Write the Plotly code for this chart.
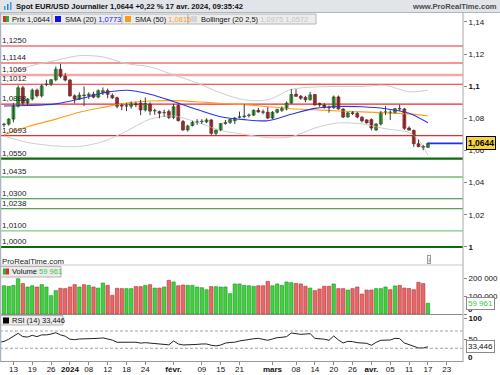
import plotly.graph_objects as go
import pandas as pd

# ---------------- data ----------------
holidays = ["2023-12-25", "2024-01-01"]
calendar = [d.strftime("%Y-%m-%d") for d in pd.bdate_range("2023-12-11", "2024-04-26")
            if d.strftime("%Y-%m-%d") not in holidays]
pos = {d: i for i, d in enumerate(calendar)}

opens = [1.0760, 1.0764, 1.0795, 1.0876, 1.0990, 1.0895, 1.0920, 1.0975, 1.0940, 1.1010,
         1.1013, 1.1040, 1.1105, 1.1062, 1.1038, 1.0940, 1.0920, 1.0945, 1.0942, 1.0950,
         1.0932, 1.0960, 1.0972, 1.0942, 1.0928, 1.0880, 1.0876, 1.0875, 1.0890, 1.0895,
         1.0852, 1.0888, 1.0846, 1.0842, 1.0835, 1.0842, 1.0806, 1.0880, 1.0780, 1.0728,
         1.0755, 1.0776, 1.0780, 1.0778, 1.0790, 1.0707, 1.0727, 1.0768, 1.0775, 1.0785,
         1.0806, 1.0810, 1.0818, 1.0820, 1.0850, 1.0840, 1.0838, 1.0802, 1.0838, 1.0850,
         1.0858, 1.0895, 1.0950, 1.0937, 1.0930, 1.0916, 1.0948, 1.0893, 1.0883, 1.0868,
         1.0866, 1.0933, 1.0858, 1.0808, 1.0835, 1.0830, 1.0806, 1.0790, 1.0792, 1.0728,
         1.0765, 1.0838, 1.0838, 1.0836, 1.0860, 1.0858, 1.0740, 1.0725, 1.0642, 1.0625,
         1.0620]
highs = [1.0772, 1.0802, 1.0895, 1.1005, 1.1001, 1.0925, 1.0985, 1.0985, 1.1012, 1.1040,
         1.1045, 1.1122, 1.1139, 1.1082, 1.1045, 1.0950, 1.0962, 1.0998, 1.0962, 1.0965,
         1.0980, 1.0992, 1.0985, 1.0955, 1.0935, 1.0892, 1.0895, 1.0905, 1.0903, 1.0915,
         1.0930, 1.0900, 1.0860, 1.0848, 1.0855, 1.0855, 1.0890, 1.0896, 1.0790, 1.0760,
         1.0785, 1.0795, 1.0795, 1.0800, 1.0795, 1.0730, 1.0770, 1.0790, 1.0797, 1.0808,
         1.0842, 1.0888, 1.0830, 1.0856, 1.0865, 1.0855, 1.0870, 1.0845, 1.0860, 1.0875,
         1.0905, 1.0982, 1.0981, 1.0945, 1.0940, 1.0964, 1.0952, 1.0898, 1.0895, 1.0880,
         1.0942, 1.0942, 1.0862, 1.0840, 1.0845, 1.0840, 1.0815, 1.0795, 1.0800, 1.0770,
         1.0845, 1.0876, 1.0850, 1.0865, 1.0885, 1.0865, 1.0750, 1.0730, 1.0668, 1.0635,
         1.0650]
lows = [1.0745, 1.0755, 1.0775, 1.0868, 1.0880, 1.0882, 1.0910, 1.0930, 1.0930, 1.1000,
        1.1000, 1.1030, 1.1050, 1.1030, 1.0935, 1.0892, 1.0915, 1.0877, 1.0920, 1.0925,
        1.0925, 1.0945, 1.0925, 1.0920, 1.0862, 1.0850, 1.0845, 1.0860, 1.0870, 1.0820,
        1.0842, 1.0820, 1.0822, 1.0800, 1.0810, 1.0795, 1.0795, 1.0780, 1.0722, 1.0718,
        1.0750, 1.0760, 1.0765, 1.0770, 1.0697, 1.0692, 1.0720, 1.0760, 1.0765, 1.0765,
        1.0800, 1.0800, 1.0805, 1.0815, 1.0835, 1.0825, 1.0795, 1.0795, 1.0830, 1.0840,
        1.0850, 1.0890, 1.0935, 1.0915, 1.0900, 1.0910, 1.0880, 1.0872, 1.0860, 1.0835,
        1.0860, 1.0855, 1.0802, 1.0805, 1.0820, 1.0800, 1.0775, 1.0768, 1.0725, 1.0722,
        1.0755, 1.0820, 1.0790, 1.0830, 1.0845, 1.0728, 1.0725, 1.0622, 1.0620, 1.0601,
        1.0615]
closes = [1.0764, 1.0795, 1.0876, 1.0990, 1.0895, 1.0920, 1.0975, 1.0940, 1.1002, 1.1013,
          1.1040, 1.1105, 1.1062, 1.1038, 1.0940, 1.0920, 1.0945, 1.0942, 1.0950, 1.0932,
          1.0972, 1.0972, 1.0950, 1.0928, 1.0875, 1.0876, 1.0878, 1.0890, 1.0884, 1.0852,
          1.0893, 1.0845, 1.0849, 1.0832, 1.0837, 1.0806, 1.0872, 1.0786, 1.0728, 1.0753,
          1.0775, 1.0779, 1.0782, 1.0790, 1.0707, 1.0727, 1.0768, 1.0774, 1.0793, 1.0802,
          1.0810, 1.0815, 1.0821, 1.0850, 1.0840, 1.0838, 1.0802, 1.0838, 1.0855, 1.0862,
          1.0895, 1.0948, 1.0937, 1.0925, 1.0916, 1.0946, 1.0883, 1.0883, 1.0868, 1.0866,
          1.0933, 1.0858, 1.0808, 1.0834, 1.0830, 1.0808, 1.0785, 1.0772, 1.0740, 1.0765,
          1.0838, 1.0840, 1.0836, 1.0860, 1.0858, 1.0738, 1.0727, 1.0642, 1.0625, 1.0620,
          1.0644]
volumes = [157000, 154000, 159000, 196000, 169000, 150000, 157000, 150000, 163000, 150000,
           102000, 130000, 143000, 141000, 150000, 163000, 150000, 163000, 159000, 150000,
           144000, 172000, 159000, 104000, 143000, 141000, 141000, 141000, 152000, 152000,
           159000, 163000, 144000, 144000, 150000, 187000, 178000, 157000, 161000, 159000,
           159000, 150000, 146000, 135000, 152000, 152000, 150000, 150000, 113000, 167000,
           167000, 159000, 157000, 154000, 157000, 157000, 181000, 157000, 167000, 159000,
           178000, 174000, 170000, 167000, 154000, 144000, 130000, 139000, 154000, 154000,
           167000, 141000, 141000, 133000, 141000, 150000, 111000, 133000, 133000, 141000,
           141000, 150000, 135000, 156000, 159000, 144000, 142000, 135000, 176000, 169000,
           59961]
rsi = [46, 51, 58, 64.6, 57, 56, 60, 57, 61, 61,
       63, 66, 61, 58, 51, 50, 51.5, 51.5, 51.5, 51.5,
       53, 54, 52, 49, 44, 44, 44.6, 45, 44, 42,
       43, 42, 41, 40, 38.5, 38, 47, 40, 37.7, 37.7,
       38, 39, 40, 40, 37, 35.5, 37.5, 42, 43.5, 44,
       47, 49, 50, 52, 53, 51, 48.5, 51.5, 54.6, 55.4,
       57, 65.4, 63, 62.3, 63, 63.8, 53, 52.3, 51, 48.5,
       58.4, 49.2, 42.3, 46, 45.4, 43, 42.3, 41.5, 36.9, 43.8,
       48.5, 48.5, 49.2, 53, 52.3, 42.3, 38.5, 34.6, 30.8, 30.8,
       33.446]

# indicator lines at sample dates
line_dates = ["2023-12-11", "2023-12-18", "2023-12-27", "2024-01-04", "2024-01-11",
              "2024-01-18", "2024-01-25", "2024-02-01", "2024-02-08", "2024-02-15",
              "2024-02-22", "2024-02-29", "2024-03-07", "2024-03-14", "2024-03-21",
              "2024-03-28", "2024-04-04", "2024-04-11", "2024-04-17"]
sma20 = [1.0877, 1.0880, 1.0890, 1.0920, 1.0958, 1.0975, 1.0950, 1.0905, 1.0855, 1.0810,
         1.0792, 1.0785, 1.0825, 1.0862, 1.0874, 1.0872, 1.0860, 1.0832, 1.0773]
sma50 = [1.0698, 1.0748, 1.0795, 1.0838, 1.0868, 1.0895, 1.0908, 1.0910, 1.0903, 1.0892,
         1.0885, 1.0872, 1.0860, 1.0853, 1.0846, 1.0840, 1.0834, 1.0828, 1.0815]
bb_upper = [1.1050, 1.1120, 1.1160, 1.1190, 1.1182, 1.1140, 1.1120, 1.1070, 1.1020, 1.0958,
            1.0915, 1.0915, 1.0980, 1.0995, 1.0998, 1.0998, 1.1005, 1.0965, 1.0975]
bb_lower_dates = line_dates[:-1] + ["2024-04-15", "2024-04-17"]
bb_lower = [1.0690, 1.0650, 1.0628, 1.0625, 1.0655, 1.0720, 1.0795, 1.0815, 1.0775, 1.0725,
            1.0700, 1.0680, 1.0685, 1.0740, 1.0772, 1.0765, 1.0735, 1.0712, 1.0665, 1.0572]

red_levels = [1.1250, 1.1144, 1.1012, 1.0888, 1.0693]
red_labels = ["1,1250", "1,1144", "1,1012", "1,0888", "1,0693"]
pink_levels = [1.1069]
pink_labels = ["1,1069"]
green_levels = [1.0550, 1.0435, 1.0300, 1.0238, 1.0100, 1.0000]
green_labels = ["1,0550", "1,0435", "1,0300", "1,0238", "1,0100", "1,0000"]
green_colors = ["#0f6a0f", "#2f962f", "#2f8a2f", "#2f8a2f", "#63bb63", "#0f6a0f"]
green_widths = [2.2, 1, 1, 1, 1, 2.2]

tick_dates = ["2023-12-13", "2023-12-19", "2023-12-26", "2024-01-02", "2024-01-08",
              "2024-01-12", "2024-01-18", "2024-01-24", "2024-02-01", "2024-02-09",
              "2024-02-15", "2024-02-21", "2024-03-01", "2024-03-08", "2024-03-14",
              "2024-03-20", "2024-03-26", "2024-04-01", "2024-04-05", "2024-04-11",
              "2024-04-17", "2024-04-23"]
tick_text = ["13", "19", "26", "<b>2024</b>", "08", "12", "18", "24", "<b>févr.</b>", "09",
             "15", "21", "<b>mars</b>", "08", "14", "20", "26", "<b>avr.</b>", "05", "11",
             "17", "23"]

price_ticks = [1.0, 1.02, 1.04, 1.06, 1.08, 1.10, 1.12, 1.14]
price_tick_text = ["<b>1</b>", "1,02", "1,04", "1,06", "1,08", "<b>1,1</b>", "1,12", "1,14"]
vol_ticks = [0, 100000, 200000]
vol_tick_text = ["", "100 000", "200 000"]
rsi_ticks = [0, 50, 100]
rsi_tick_text = ["", "50", "<b>100</b>"]
zero_label = "<b>0</b>"

# ---------------- geometry helpers (pixel -> paper) ----------------
W, H = 500, 375
PL, PR, PT, PB = 0, 463, 13, 361
PW, PH = PR - PL, PB - PT


def fx(x):
    return (x - PL) / PW


def fy(y):
    return (PB - y) / PH


FONT = "Liberation Sans, Arial, sans-serif"

n = len(closes)
xs = [pos[d] for d in calendar[:n]]
x_min = -0.85
x_max = 97.45

fig = go.Figure()

# Bollinger, SMA lines (behind candles)
lx = [pos[d] for d in line_dates]
lxl = [pos[d] for d in bb_lower_dates]
fig.add_trace(go.Scatter(x=lx, y=bb_upper, mode="lines", line=dict(color="#cdcdcd", width=1, shape="spline", smoothing=0.8),
                         hoverinfo="skip", showlegend=False))
fig.add_trace(go.Scatter(x=lxl, y=bb_lower, mode="lines", line=dict(color="#cdcdcd", width=1, shape="spline", smoothing=0.8),
                         hoverinfo="skip", showlegend=False))
fig.add_trace(go.Scatter(x=lx, y=sma50, mode="lines", line=dict(color="#ff9d1e", width=1.1, shape="spline", smoothing=0.8),
                         hoverinfo="skip", showlegend=False))
fig.add_trace(go.Scatter(x=lx, y=sma20, mode="lines", line=dict(color="#2a35e8", width=1.1, shape="spline", smoothing=0.8),
                         hoverinfo="skip", showlegend=False))

# wicks
wx, wy = [], []
for i, h, l in zip(xs, highs, lows):
    wx += [i, i, None]
    wy += [l, h, None]
fig.add_trace(go.Scatter(x=wx, y=wy, mode="lines", line=dict(color="#3a3a3a", width=1),
                         hoverinfo="skip", showlegend=False))

# bodies
for up in (True, False):
    bx, bb, bh = [], [], []
    for i, o, c in zip(xs, opens, closes):
        if (c >= o) == up:
            bx.append(i)
            bb.append(min(o, c))
            bh.append(max(abs(c - o), 0.00025))
    fig.add_trace(go.Bar(x=bx, y=bh, base=bb, width=0.62,
                         marker=dict(color="#2fc42f" if up else "#e3262a",
                                     line=dict(color="#1d4d1d" if up else "#5a1010", width=0.6)),
                         hoverinfo="skip", showlegend=False, yaxis="y"))

# volume
vcol = ["#3fd23f" if c >= o else "#e86868" for o, c in zip(opens, closes)]
vline = ["#1f8f1f" if c >= o else "#b03030" for o, c in zip(opens, closes)]
fig.add_trace(go.Bar(x=xs, y=volumes, width=0.72, marker=dict(color=vcol, line=dict(color=vline, width=0.6)),
                     yaxis="y2", hoverinfo="skip", showlegend=False))

# RSI
fig.add_trace(go.Scatter(x=[x_min] + xs, y=[rsi[0] - 2] + rsi, mode="lines", line=dict(color="#222222", width=1),
                         yaxis="y3", hoverinfo="skip", showlegend=False))

shapes = []
annotations = []

# horizontal levels
for v, t in zip(red_levels, red_labels):
    shapes.append(dict(type="line", xref="x domain", x0=0, x1=1, yref="y", y0=v, y1=v,
                       line=dict(color="#ee2a2a", width=1.2), layer="below"))
for v, t in zip(pink_levels, pink_labels):
    shapes.append(dict(type="line", xref="x domain", x0=0, x1=1, yref="y", y0=v, y1=v,
                       line=dict(color="#f2a8a8", width=2.5), layer="below"))
for v, c, w in zip(green_levels, green_colors, green_widths):
    shapes.append(dict(type="line", xref="x domain", x0=0, x1=1, yref="y", y0=v, y1=v,
                       line=dict(color=c, width=w), layer="below"))
for v, t in zip(red_levels + pink_levels + green_levels, red_labels + pink_labels + green_labels):
    annotations.append(dict(xref="paper", x=fx(1), xanchor="left", yref="y", y=v, yanchor="bottom",
                            text=t, showarrow=False, font=dict(size=8, color="#1a1a1a", family=FONT),
                            borderpad=0, yshift=0))

# current price line
shapes.append(dict(type="line", xref="x", x0=xs[-1], x1=x_max, yref="y", y0=closes[-1], y1=closes[-1],
                   line=dict(color="#2030e6", width=1.6)))

# RSI dashed 70 / 30
for v in (70, 30):
    shapes.append(dict(type="line", xref="x domain", x0=0, x1=1, yref="y3", y0=v, y1=v,
                       line=dict(color="#8a8a8a", width=0.8, dash="3px,2px")))

# panel borders
shapes.append(dict(type="line", xref="paper", yref="paper", x0=fx(0), x1=fx(463), y0=fy(265), y1=fy(265),
                   line=dict(color="#c8c8c8", width=1)))
shapes.append(dict(type="line", xref="paper", yref="paper", x0=fx(0), x1=fx(463), y0=fy(314.5), y1=fy(314.5),
                   line=dict(color="#8c8c8c", width=1.2)))
shapes.append(dict(type="line", xref="paper", yref="paper", x0=fx(463), x1=fx(463), y0=fy(13), y1=fy(362),
                   line=dict(color="#a8a8a8", width=1)))
shapes.append(dict(type="line", xref="paper", yref="paper", x0=fx(0.5), x1=fx(0.5), y0=fy(13), y1=fy(362),
                   line=dict(color="#a9b5c2", width=1.5)))

# title bar
shapes.append(dict(type="rect", xref="paper", yref="paper", x0=fx(0), x1=fx(500), y0=fy(12.5), y1=fy(0),
                   fillcolor="#e1e4e8", line=dict(width=0), layer="below"))
shapes.append(dict(type="line", xref="paper", yref="paper", x0=fx(0), x1=fx(500), y0=fy(12.5), y1=fy(12.5),
                   line=dict(color="#aeb6bf", width=1)))
annotations.append(dict(xref="paper", yref="paper", x=fx(15), y=fy(6.5), xanchor="left", yanchor="middle",
                        text="<b>Spot EUR/USD Journalier 1,0644 +0,22 % 17 avr. 2024, 09:35:42</b>",
                        showarrow=False, font=dict(size=7.6, color="#111", family=FONT), borderpad=0))
annotations.append(dict(xref="paper", yref="paper", x=fx(498), y=fy(6.5), xanchor="right", yanchor="middle",
                        text="<b>www.ProRealTime.com</b>", showarrow=False,
                        font=dict(size=7.6, color="#4a4a4a", family=FONT), borderpad=0))
# small title icon
for k, (hh, col) in enumerate([(4, "#3aa0e0"), (6, "#2f7fd0"), (8, "#3aa0e0")]):
    shapes.append(dict(type="rect", xref="paper", yref="paper", x0=fx(4 + 3 * k), x1=fx(5.5 + 3 * k),
                       y0=fy(10), y1=fy(10 - hh), fillcolor=col, line=dict(width=0)))


def legend_box(x0, x1, y0, y1):
    shapes.append(dict(type="rect", xref="paper", yref="paper", x0=fx(x0), x1=fx(x1), y0=fy(y1), y1=fy(y0),
                       fillcolor="#ececec", line=dict(color="#b4b4b4", width=1)))


def icon(x0, y0, colors):
    w = 6 / len(colors)
    for k, c in enumerate(colors):
        shapes.append(dict(type="rect", xref="paper", yref="paper", x0=fx(x0 + k * w), x1=fx(x0 + (k + 1) * w),
                           y0=fy(y0 + 6), y1=fy(y0), fillcolor=c, line=dict(width=0)))


def legend_text(x, y, text):
    annotations.append(dict(xref="paper", yref="paper", x=fx(x), y=fy(y), xanchor="left", yanchor="middle",
                            text=text, showarrow=False, font=dict(size=7.5, color="#111", family=FONT), borderpad=0))


legend_box(0.5, 52, 14, 24)
icon(3, 16, ["#d63030", "#30b030"])
legend_text(11, 19.2, "Prix 1,0644")
legend_box(52, 122, 14, 24)
icon(55, 16, ["#1010ee"])
legend_text(64, 19.2, "SMA (20) <span style='color:#2020ff'>1,0773</span>")
legend_box(122, 188, 14, 24)
icon(125, 16, ["#ff9a1a"])
legend_text(134, 19.2, "SMA (50) <span style='color:#ff9a1a'>1,0815</span>")
legend_box(188, 316, 14, 24)
icon(191, 16, ["#d4d4d4"])
legend_text(200, 19.2, "Bollinger (20 2,5) <span style='color:#c4c4c4'>1,0975 1,0572</span>")

annotations.append(dict(xref="paper", yref="paper", x=fx(1), y=fy(261.5), xanchor="left", yanchor="middle",
                        text="ProRealTime.com", showarrow=False, font=dict(size=7.8, color="#222", family=FONT),
                        borderpad=0))
legend_box(0.5, 61, 266.5, 277)
icon(3, 268.5, ["#30b030", "#d63030"])
legend_text(11, 271.8, "Volume <span style='color:#3cc83c'>59 961</span>")
legend_box(0.5, 63, 315.5, 325)
icon(3, 317.5, ["#000000"])
legend_text(11, 320.5, "RSI (14) 33,446")

# "0" labels of the volume and RSI panels sit just above their baselines
for yy in (309, 357.5):
    annotations.append(dict(xref="paper", yref="paper", x=fx(467), y=fy(yy), xanchor="left", yanchor="middle",
                            text=zero_label, showarrow=False, font=dict(size=8, color="#111", family=FONT),
                            borderpad=0))

# "i" boxes
annotations.append(dict(xref="paper", yref="paper", x=fx(429), y=fy(259), xanchor="center", yanchor="middle",
                        text="i", showarrow=False, font=dict(size=6, color="#555", family=FONT),
                        bordercolor="#9a9a9a", borderwidth=1, borderpad=0.5, bgcolor="#f4f4f4"))

# right-side value boxes
annotations.append(dict(xref="paper", x=fx(466), xanchor="left", yref="y", y=closes[-1], yanchor="middle",
                        text="<b>1,0644</b>", showarrow=False, font=dict(size=8.5, color="#000", family=FONT),
                        bgcolor="#f7d33c", bordercolor="#000", borderwidth=1, borderpad=1))
annotations.append(dict(xref="paper", x=fx(466), xanchor="left", yref="y2", y=volumes[-1], yanchor="middle",
                        text="59 961", showarrow=False, font=dict(size=8, color="#3cc83c", family=FONT),
                        bgcolor="#ffffff", bordercolor="#8a8a8a", borderwidth=1, borderpad=1))
annotations.append(dict(xref="paper", x=fx(466), xanchor="left", yref="y3", y=rsi[-1], yanchor="middle",
                        text="33,446", showarrow=False, font=dict(size=8, color="#111", family=FONT),
                        bgcolor="#ffffff", bordercolor="#8a8a8a", borderwidth=1, borderpad=1))

yaxis_common = dict(side="right", anchor="x", showgrid=False, zeroline=False, ticks="outside", ticklen=3,
                    tickcolor="#888", tickfont=dict(size=8, color="#111", family=FONT), showline=False,
                    fixedrange=True, automargin=False)

fig.update_layout(
    width=W, height=H,
    margin=dict(l=PL, r=W - PR, t=PT, b=H - PB, pad=0, autoexpand=False),
    paper_bgcolor="white", plot_bgcolor="white",
    barmode="overlay", showlegend=False,
    font=dict(family=FONT, size=8, color="#111"),
    xaxis=dict(domain=[0, 1], anchor="y3", range=[x_min, x_max], tickmode="array",
               tickvals=[pos[d] for d in tick_dates], ticktext=tick_text, ticks="outside", ticklen=3,
               tickcolor="#888", tickfont=dict(size=8, color="#111", family=FONT), showgrid=False,
               zeroline=False, showline=True, linecolor="#9a9a9a", linewidth=1, automargin=False,
               ticklabelstandoff=-3),
    yaxis=dict(domain=[fy(257), 1], range=[1.06 - (257 - 150.5) / 1608, 1.06 + (150.5 - 13) / 1608],
               tickmode="array", tickvals=price_ticks, ticktext=price_tick_text, **yaxis_common),
    yaxis2=dict(domain=[fy(314), fy(265)], range=[0, (314 - 265) / 18 * 100000],
                tickmode="array", tickvals=vol_ticks, ticktext=vol_tick_text, **yaxis_common),
    yaxis3=dict(domain=[0, fy(316)], range=[0.6, 104.7],
                tickmode="array", tickvals=rsi_ticks, ticktext=rsi_tick_text, **yaxis_common),
    shapes=shapes, annotations=annotations,
)

fig.write_html("out.html", config={"displayModeBar": False},
               post_script="document.body.style.margin='0px';document.body.style.padding='0px';")
